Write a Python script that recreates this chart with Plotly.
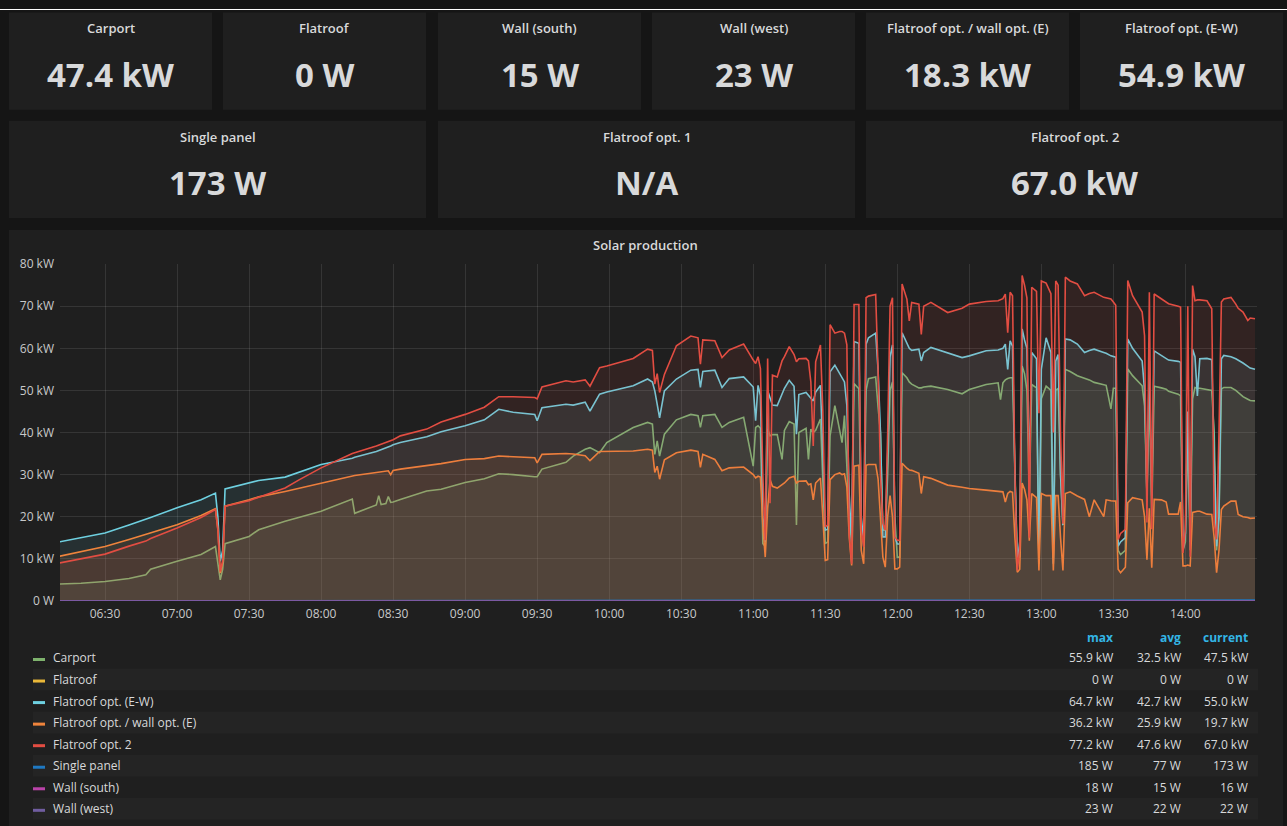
"""
Solar production dashboard (Grafana style) rebuilt with plotly
"""
import pandas as pd
import plotly.graph_objects as go

W, H = 1287, 836
# the photo maps page y to 9.45 + 0.9775 * y, positions below are in photo pixels
Y_SHIFT, Y_SCALE = 9.45, 0.9775
DAY = "2018-06-01 "

# shared time grid of the four big series (HH:MM)
times = [
    # 06:11 - 08:30
    "06:11", "06:20", "06:30", "06:40", "06:47", "06:49", "07:00", "07:10", "07:16", "07:17",
    "07:18", "07:19", "07:20", "07:30", "07:34", "07:45", "07:51", "08:00", "08:13", "08:14",
    "08:23", "08:24", "08:25", "08:27", "08:28", "08:29", "08:30",
    # 08:33 - 10:56
    "08:33", "08:44", "08:50", "09:00", "09:08", "09:14", "09:20", "09:29", "09:30", "09:32",
    "09:42", "09:45", "09:50", "09:52", "09:56", "09:59", "10:10", "10:16", "10:18", "10:19",
    "10:20", "10:21", "10:23", "10:28", "10:34", "10:37", "10:38", "10:39", "10:44", "10:47",
    "10:50", "10:56",
    # 11:00 - 12:05
    "11:00", "11:01", "11:02", "11:03", "11:04", "11:05", "11:06", "11:07", "11:08", "11:10",
    "11:12", "11:13", "11:15", "11:17", "11:18", "11:19", "11:22", "11:23", "11:24", "11:25",
    "11:26", "11:28", "11:29", "11:30", "11:31", "11:32", "11:34", "11:36", "11:37", "11:38",
    "11:39", "11:40", "11:41", "11:42", "11:44", "11:45", "11:46", "11:47", "11:48", "11:51",
    "11:52", "11:53", "11:54", "11:55", "11:56", "11:57", "11:58", "11:59", "12:00", "12:01",
    "12:02", "12:04", "12:05",
    # 12:06 - 13:15
    "12:06", "12:09", "12:10", "12:11", "12:14", "12:21", "12:27", "12:30", "12:37", "12:42",
    "12:43", "12:44", "12:45", "12:46", "12:47", "12:48", "12:49", "12:50", "12:51", "12:52",
    "12:53", "12:54", "12:55", "12:56", "12:58", "12:59", "13:00", "13:02", "13:04", "13:05",
    "13:06", "13:07", "13:08", "13:09", "13:10", "13:12", "13:15",
    # 13:18 - 14:29
    "13:18", "13:20", "13:22", "13:26", "13:27", "13:29", "13:30", "13:31", "13:32", "13:33",
    "13:35", "13:36", "13:38", "13:42", "13:43", "13:44", "13:45", "13:46", "13:47", "13:50",
    "13:52", "13:53", "13:57", "13:58", "13:59", "14:00", "14:01", "14:02", "14:03", "14:04",
    "14:05", "14:06", "14:09", "14:11", "14:12", "14:13", "14:14", "14:15", "14:16", "14:19",
    "14:21", "14:22", "14:24", "14:26", "14:27", "14:29",
]

# Carport (kW)
carport_kw = [
    4.0, 4.2, 4.6, 5.3, 6.2, 7.5, 9.4, 11.0, 12.9, 9.0,
    5.0, 7.5, 13.6, 15.3, 16.9, 18.9, 19.8, 21.3, 24.2, 20.8,
    22.8, 25.0, 22.9, 23.1, 24.8, 23.4, 23.5,
    24.1, 26.1, 26.5, 28.1, 29.0, 30.2, 30.0, 29.5, 29.5, 31.3,
    32.9, 34.4, 36.0, 36.4, 35.2, 37.6, 41.2, 42.4, 42.0, 34.8,
    38.0, 34.4, 39.6, 43.0, 44.3, 44.0, 41.2, 44.0, 44.3, 41.2,
    42.4, 43.6,
    32.0, 41.2, 41.6, 41.0, 13.6, 13.0, 40.8, 39.2, 39.5, 39.5,
    33.6, 40.5, 42.6, 42.0, 18.0, 40.0, 41.0, 33.6, 40.8, 40.0,
    40.5, 43.2, 30.0, 13.6, 14.0, 39.2, 46.4, 40.0, 37.6, 44.0,
    32.8, 20.0, 13.6, 51.6, 50.4, 18.0, 13.0, 50.0, 52.8, 53.2,
    46.0, 40.0, 16.8, 16.8, 30.0, 50.0, 52.0, 20.0, 10.4, 10.4,
    54.2, 53.0, 52.0,
    51.5, 50.6, 50.6, 50.8, 51.0, 50.2, 49.2, 50.2, 51.4, 51.8,
    47.8, 51.8, 52.5, 52.8, 53.0, 53.0, 30.0, 10.0, 10.5, 55.8,
    54.0, 50.0, 25.0, 51.4, 50.6, 10.0, 48.0, 51.0, 50.0, 10.0,
    50.0, 50.5, 30.0, 18.0, 55.0, 54.5, 53.5,
    53.0, 52.5, 51.9, 51.3, 51.2, 45.6, 50.5, 50.5, 12.0, 11.0,
    12.0, 55.1, 53.5, 51.1, 46.3, 25.0, 50.0, 20.0, 51.0, 50.6,
    50.3, 49.8, 49.1, 48.7, 12.0, 14.0, 40.0, 12.0, 48.0, 50.7,
    50.5, 50.5, 50.3, 50.0, 40.0, 12.0, 20.0, 50.3, 50.7, 50.7,
    50.0, 49.5, 48.5, 47.9, 47.6, 47.5,
]

# Flatroof opt. (E-W) (kW)
ew_kw = [
    14.0, 15.0, 16.1, 18.0, 19.3, 19.8, 22.1, 24.0, 25.6, 20.0,
    9.4, 12.0, 26.6, 28.0, 28.6, 29.4, 30.6, 32.4, 33.9, 34.1,
    35.5, 35.7, 35.9, 36.3, 36.5, 36.8, 37.1,
    37.6, 39.0, 40.2, 41.6, 43.0, 45.5, 44.8, 44.3, 42.8, 45.9,
    46.7, 46.5, 47.2, 45.1, 49.1, 49.6, 51.1, 52.7, 52.0, 49.9,
    47.0, 43.5, 49.9, 52.7, 54.8, 55.0, 50.7, 54.5, 54.8, 50.7,
    52.8, 53.2,
    50.8, 42.8, 51.2, 48.8, 20.0, 14.0, 50.0, 48.0, 46.5, 46.4,
    49.0, 50.5, 52.4, 51.0, 39.6, 49.0, 49.5, 48.8, 48.0, 47.5,
    49.6, 51.2, 35.0, 16.8, 17.0, 54.4, 56.0, 54.0, 53.0, 52.0,
    46.4, 25.0, 14.0, 61.6, 61.2, 20.0, 14.0, 61.0, 62.5, 63.6,
    55.0, 40.0, 15.2, 15.2, 35.0, 58.0, 60.8, 15.2, 13.5, 13.5,
    63.7, 61.0, 60.0,
    59.5, 59.8, 57.0, 59.0, 60.2, 59.0, 57.8, 58.2, 59.4, 59.6,
    59.8, 60.0, 61.0, 55.0, 61.8, 60.5, 30.0, 8.8, 14.0, 64.6,
    62.0, 60.0, 30.0, 59.0, 57.5, 8.8, 55.0, 62.5, 59.0, 8.8,
    57.0, 58.5, 30.0, 18.0, 62.2, 62.0, 61.0,
    59.0, 59.5, 59.8, 59.0, 58.8, 58.2, 58.0, 57.9, 13.0, 14.0,
    15.0, 62.2, 60.0, 57.0, 50.0, 25.0, 57.0, 25.0, 59.4, 58.3,
    57.6, 57.2, 56.9, 56.7, 12.0, 16.0, 45.0, 14.0, 59.8, 58.0,
    48.7, 57.5, 57.6, 57.3, 34.0, 13.0, 20.0, 57.5, 58.3, 58.0,
    57.5, 57.2, 56.5, 55.7, 55.3, 55.0,
]

# Flatroof opt. / wall opt. (E) (kW)
wall_e_kw = [
    10.6, 11.7, 12.9, 14.6, 15.8, 16.3, 18.1, 20.3, 21.9, 17.0,
    6.6, 9.0, 22.5, 24.0, 24.7, 26.0, 26.8, 28.0, 29.7, 29.8,
    30.5, 30.6, 30.7, 30.8, 30.9, 30.0, 31.0,
    31.3, 32.2, 32.6, 33.6, 33.8, 34.4, 34.3, 34.0, 32.8, 34.8,
    35.0, 34.9, 34.5, 33.3, 35.5, 35.5, 35.6, 36.0, 35.8, 30.5,
    32.0, 28.9, 33.5, 35.2, 35.8, 35.5, 31.7, 34.8, 33.6, 30.9,
    31.6, 31.8,
    30.0, 29.2, 29.6, 29.4, 18.0, 10.4, 22.0, 28.8, 27.2, 26.8,
    27.5, 28.0, 29.2, 29.6, 28.0, 28.4, 28.5, 27.6, 27.8, 24.0,
    28.0, 29.2, 20.0, 9.6, 9.8, 28.8, 30.0, 30.4, 30.0, 30.2,
    27.0, 15.0, 8.4, 32.0, 32.2, 12.0, 8.8, 32.2, 32.4, 32.4,
    29.0, 20.0, 10.4, 8.0, 20.0, 25.0, 20.0, 7.6, 7.6, 8.0,
    32.7, 31.5, 31.1,
    31.0, 30.3, 25.5, 29.5, 29.1, 27.5, 27.0, 26.7, 26.3, 26.0,
    26.0, 25.9, 23.5, 25.5, 26.0, 25.8, 15.0, 6.8, 7.5, 28.0,
    26.5, 24.0, 14.3, 25.5, 24.5, 7.2, 25.5, 25.0, 25.0, 7.2,
    25.0, 25.0, 15.0, 7.2, 25.5, 25.9, 24.9,
    24.1, 20.0, 24.0, 20.0, 24.0, 23.8, 23.7, 23.7, 7.5, 6.7,
    8.0, 23.3, 24.5, 24.0, 20.0, 9.8, 22.0, 7.9, 24.1, 24.0,
    23.5, 20.6, 20.6, 23.5, 8.3, 8.3, 8.5, 8.3, 21.0, 21.2,
    21.3, 21.3, 20.6, 20.5, 15.0, 6.7, 12.0, 21.7, 22.5, 23.7,
    23.7, 20.5, 20.0, 19.8, 19.6, 19.7,
]

# Flatroof opt. 2 (kW)
opt2_kw = [
    9.0, 10.0, 11.1, 13.0, 14.2, 14.8, 17.3, 19.8, 21.7, 17.0,
    7.0, 9.5, 22.5, 23.8, 24.6, 26.8, 28.8, 31.6, 35.0, 35.2,
    36.8, 37.0, 37.2, 37.6, 37.8, 38.0, 38.3,
    39.2, 40.8, 42.5, 44.3, 46.0, 48.5, 48.5, 48.3, 48.0, 50.8,
    52.3, 52.0, 52.5, 51.0, 55.4, 55.8, 57.6, 59.8, 59.5, 51.5,
    54.0, 49.5, 53.8, 60.6, 62.9, 62.5, 56.2, 62.0, 61.8, 57.8,
    59.6, 61.0,
    57.2, 56.4, 58.0, 55.2, 30.0, 14.4, 57.6, 23.2, 53.6, 53.2,
    57.0, 58.0, 60.4, 58.5, 56.8, 57.5, 57.6, 57.0, 52.0, 36.8,
    56.8, 60.8, 45.0, 17.6, 18.0, 65.6, 63.6, 64.0, 64.0, 63.6,
    60.8, 16.0, 8.8, 70.4, 70.4, 16.8, 12.8, 72.0, 72.4, 72.8,
    55.0, 30.0, 18.4, 16.8, 40.0, 70.0, 72.0, 15.2, 14.4, 14.4,
    75.3, 71.7, 66.5,
    70.9, 70.5, 63.3, 70.0, 70.9, 68.5, 69.5, 70.5, 71.1, 71.3,
    71.5, 71.8, 72.9, 63.7, 73.3, 72.5, 30.0, 7.2, 12.7, 77.3,
    75.0, 72.0, 15.0, 74.5, 73.5, 44.6, 76.0, 75.5, 73.0, 40.0,
    76.0, 75.0, 40.0, 18.3, 76.9, 76.0, 75.3,
    72.5, 73.0, 73.3, 72.1, 72.0, 71.7, 71.0, 70.2, 14.6, 16.0,
    17.0, 76.1, 72.5, 68.6, 63.0, 18.6, 73.3, 17.0, 72.9, 71.7,
    71.0, 70.6, 70.0, 69.8, 11.4, 17.0, 70.0, 10.5, 74.9, 71.3,
    71.5, 71.5, 71.3, 69.4, 18.6, 14.6, 40.0, 71.0, 71.7, 72.1,
    70.5, 69.5, 68.6, 66.6, 67.2, 67.0,
]

# the small series sit on the zero line, a few points are enough
small_times = ["06:11", "08:00", "10:00", "12:00", "14:29"]
flatroof_kw = [0, 0, 0, 0, 0]
single_panel_kw = [0.01, 0.05, 0.12, 0.16, 0.173]
wall_south_kw = [0.013, 0.015, 0.016, 0.017, 0.016]
wall_west_kw = [0.021, 0.022, 0.023, 0.022, 0.022]

series_names = ["Carport", "Flatroof", "Flatroof opt. (E-W)", "Flatroof opt. / wall opt. (E)",
                "Flatroof opt. 2", "Single panel", "Wall (south)", "Wall (west)"]
series_colors = ["#7EB26D", "#EAB839", "#6ED0E0", "#EF843C", "#E24D42", "#1F78C1", "#BA43A9", "#705DA0"]

leg_max = ["55.9 kW", "0 W", "64.7 kW", "36.2 kW", "77.2 kW", "185 W", "18 W", "23 W"]
leg_avg = ["32.5 kW", "0 W", "42.7 kW", "25.9 kW", "47.6 kW", "77 W", "15 W", "22 W"]
leg_cur = ["47.5 kW", "0 W", "55.0 kW", "19.7 kW", "67.0 kW", "173 W", "16 W", "22 W"]

stat_titles_top = ["Carport", "Flatroof", "Wall (south)", "Wall (west)",
                   "Flatroof opt. / wall opt. (E)", "Flatroof opt. (E-W)"]
stat_values_top = ["47.4 kW", "0 W", "15 W", "23 W", "18.3 kW", "54.9 kW"]
stat_titles_mid = ["Single panel", "Flatroof opt. 1", "Flatroof opt. 2"]
stat_values_mid = ["173 W", "N/A", "67.0 kW"]

y_ticks = [0, 10, 20, 30, 40, 50, 60, 70, 80]
y_tick_text = ["0 W"] + [f"{v} kW" for v in y_ticks[1:]]

assert len(times) == len(carport_kw) == len(ew_kw) == len(wall_e_kw) == len(opt2_kw)

FONT = "Open Sans"
TXT = "#d8d9da"
PAGE_BG = "#151515"
PANEL_BG = "#1f1f1f"


def px(x):
    return x / W


def py(y):
    # photo y -> paper fraction
    return 1 - (y - Y_SHIFT) / Y_SCALE / H


def rect(x0, y0, x1, y1, color):
    return dict(type="rect", xref="paper", yref="paper", x0=px(x0), x1=px(x1),
                y0=py(y1), y1=py(y0), fillcolor=color, line_width=0, layer="below")


def label(x, y, s, size, color=TXT, anchor="center", weight=400):
    return dict(x=px(x), y=py(y), xref="paper", yref="paper", text=s, showarrow=False,
                xanchor=anchor, yanchor="middle",
                font=dict(family=FONT, size=size, color=color, weight=weight))


def rgba(hex_color, a):
    h = hex_color.lstrip("#")
    return f"rgba({int(h[0:2], 16)},{int(h[2:4], 16)},{int(h[4:6], 16)},{a})"


t_big = pd.to_datetime([DAY + t for t in times])
t_small = pd.to_datetime([DAY + t for t in small_times])
series_x = [t_big, t_small, t_big, t_big, t_big, t_small, t_small, t_small]
series_y = [carport_kw, flatroof_kw, ew_kw, wall_e_kw, opt2_kw,
            single_panel_kw, wall_south_kw, wall_west_kw]

fig = go.Figure()
for name, color, xs, ys in zip(series_names, series_colors, series_x, series_y):
    fig.add_trace(go.Scatter(
        x=xs, y=ys, name=name, mode="lines",
        line=dict(color=color, width=1.6),
        fill="tozeroy", fillcolor=rgba(color, 0.1),
        showlegend=False, hoverinfo="skip",
    ))

shapes = [rect(0, Y_SHIFT, W, 10.5, "#ffffff")]

# stat panels
top_x = [(9, 212), (223, 426), (438, 641), (652, 855), (866, 1069), (1080, 1283)]
mid_x = [(9, 426), (438, 855), (866, 1283)]
annotations = []
for (x0, x1), title, value in zip(top_x, stat_titles_top, stat_values_top):
    shapes.append(rect(x0, 13, x1, 110, PANEL_BG))
    annotations.append(label((x0 + x1) / 2, 28, title, 13, weight=600))
    annotations.append(label((x0 + x1) / 2, 75, value, 33, weight=700))
for (x0, x1), title, value in zip(mid_x, stat_titles_mid, stat_values_mid):
    shapes.append(rect(x0, 121, x1, 218, PANEL_BG))
    annotations.append(label((x0 + x1) / 2, 137, title, 13, weight=600))
    annotations.append(label((x0 + x1) / 2, 183, value, 33, weight=700))

# graph panel
shapes.append(rect(9, 230, 1283, 830, PANEL_BG))
annotations.append(label(646, 245, "Solar production", 13, weight=600))

# legend table under the graph
row_y = [657 + 21.5 * i for i in range(len(series_names))]
for i, yc in enumerate(row_y):
    if i % 2 == 1:
        shapes.append(rect(33, yc - 10.75, 1258, yc + 10.75, "#242424"))
for i, yc in enumerate(row_y):
    shapes.append(rect(33, yc, 45, yc + 3, series_colors[i]))
    annotations.append(label(51, yc, series_names[i], 12, anchor="left"))
    annotations.append(label(1115, yc, leg_max[i], 12, anchor="right"))
    annotations.append(label(1183, yc, leg_avg[i], 12, anchor="right"))
    annotations.append(label(1250, yc, leg_cur[i], 12, anchor="right"))
for xr, head in zip([1115, 1183, 1250], ["max", "avg", "current"]):
    annotations.append(label(xr, 637, head, 12, color="#33b5e5", anchor="right", weight=700))

grid = "rgba(255,255,255,0.1)"
fig.update_layout(
    width=W, height=H, autosize=False,
    margin=dict(l=0, r=0, t=0, b=0),
    paper_bgcolor=PAGE_BG, plot_bgcolor="rgba(0,0,0,0)",
    font=dict(family=FONT, color=TXT, size=12),
    shapes=shapes, annotations=annotations,
    xaxis=dict(
        type="date", domain=[px(60), px(1257)],
        range=[DAY + "06:11:15", DAY + "14:29:50"],
        tick0=DAY + "06:30", dtick=30 * 60 * 1000, tickformat="%H:%M",
        showgrid=True, gridcolor=grid, gridwidth=1, zeroline=False, showline=False,
        ticks="", tickfont=dict(size=12, color="#c8c9ca"), ticklabelstandoff=4,
    ),
    yaxis=dict(
        domain=[py(600), py(264)], range=[0, 80],
        tickvals=y_ticks, ticktext=y_tick_text,
        showgrid=True, gridcolor=grid, gridwidth=1, zeroline=False, showline=False,
        ticks="", tickfont=dict(size=12, color="#c8c9ca"), ticklabelstandoff=5,
    ),
)

page_css = ("document.documentElement.style.margin='0';"
            "document.documentElement.style.overflow='hidden';"
            "document.body.style.margin='0';"
            "document.body.style.overflow='hidden';"
            "document.body.style.background='#151515';")
fig.write_html("out.html", config={"displayModeBar": False}, post_script=page_css)
